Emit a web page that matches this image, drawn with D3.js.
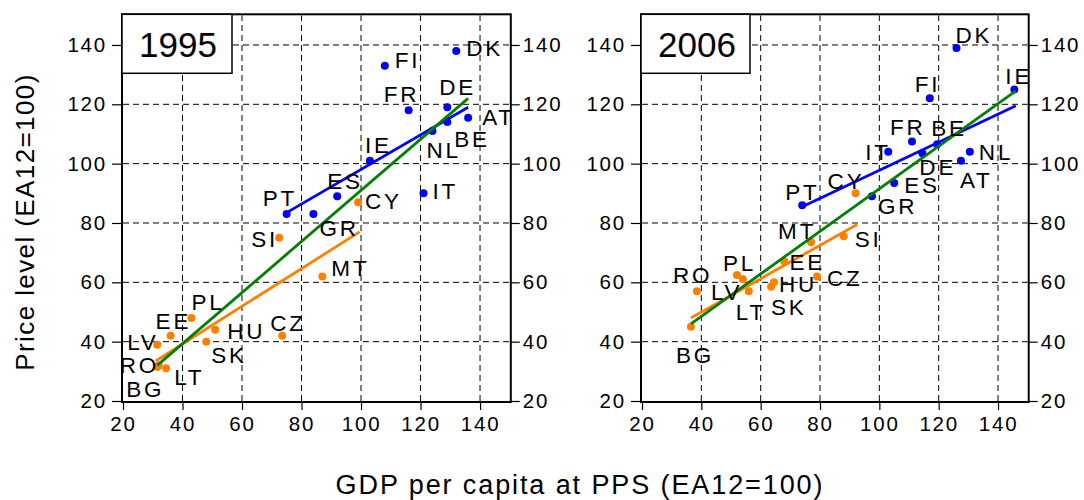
<!DOCTYPE html>
<html>
<head>
<meta charset="utf-8">
<script src="https://cdn.jsdelivr.net/npm/d3@7"></script>
<style>
  html, body { margin: 0; padding: 0; background: #ffffff; }
  svg { display: block; font-family: "Liberation Sans", Arial, sans-serif; }
</style>
</head>
<body>
<svg id="chart" width="1084" height="500"></svg>
<script>
// ---------------- DATA ----------------
const xTicks = [20, 40, 60, 80, 100, 120, 140];
const yTicks = [20, 40, 60, 80, 100, 120, 140];
const years = ["1995", "2006"];
const countries = ["DK","FI","FR","DE","AT","BE","NL","IE","ES","IT","PT","GR",
                   "CY","SI","MT","PL","EE","HU","CZ","SK","LV","RO","LT","BG"];
const groups    = ["old","old","old","old","old","old","old","old","old","old","old","old",
                   "new","new","new","new","new","new","new","new","new","new","new","new"];
const gdp1995   = [132, 108, 116, 129, 136, 129, 124, 103, 92, 121, 75, 84,
                   99, 72.5, 87, 43, 36, 51, 73.5, 48, 31.5, 32, 34.5, 31.5];
const price1995 = [138, 133, 118, 119, 115.5, 114, 111, 101, 89, 90, 83, 83,
                   87, 75, 62, 48, 42, 44, 42, 40, 39, 32, 31, 31.5];
const gdp2006   = [126, 117, 111, 114.5, 127.5, 119.5, 130.5, 145.5, 105, 103, 74, 97.5,
                   92, 88, 77, 52, 68, 64.5, 79, 63.5, 54, 38.5, 56, 36.5];
const price2006 = [139, 122, 107.5, 103.5, 101, 106.5, 104, 125, 93.5, 104, 86, 89,
                   90, 75.5, 73.5, 62.5, 67, 60, 62, 58.5, 61, 57, 57, 45];
// fitted lines: [x1, y1, x2, y2]
const fitOld1995 = [75, 83.5, 136, 119];
const fitNew1995 = [31, 33.5, 99.5, 77];
const fitAll1995 = [31.5, 32, 136, 122];
const fitOld2006 = [74, 85.5, 146, 119.5];
const fitNew2006 = [36.5, 48, 92.5, 79.5];
const fitAll2006 = [36.5, 46, 146, 124.5];

// ---------------- LAYOUT (label offsets in px: dx to text start, dy to baseline) -------------
const labelOffsets1995 = {
  DK:[10,5], FI:[10,2], FR:[-25,-8], DE:[-8,-12], AT:[14,7], BE:[7,25], NL:[-6,27],
  IE:[-5,-8], ES:[-10,-7], IT:[9,6], PT:[-24,-8], GR:[6,22], CY:[7,7], SI:[-28,9],
  MT:[9,0], PL:[0,-8], EE:[-15,-7], HU:[12,9], CZ:[-12,-5], SK:[5,21], LV:[-30,5],
  RO:[-39,8], LT:[8,17], BG:[-31,30]
};
const labelOffsets2006 = {
  DK:[-1,-5], FI:[-15,-6], FR:[-22,-6], DE:[-3,22], AT:[-1,27], BE:[-6,-8], NL:[9,8],
  IE:[-9,-5], ES:[10,10], IT:[-23,8], PT:[-17,-5], GR:[6,18], CY:[-28,-4], SI:[11,11],
  MT:[-33,-3], PL:[-14,-4], EE:[5,8], HU:[5,10], CZ:[10,10], SK:[0,28], LV:[-32,21],
  RO:[-24,-8], LT:[-13,29], BG:[-15,36]
};

const colors = { old: "#0000ff", new: "#ff8000", all: "#008000" };

const panels = [
  { year: years[0], gdp: gdp1995, price: price1995, fits: [fitOld1995, fitNew1995, fitAll1995],
    offsets: labelOffsets1995, xr: [123, 509.8], boxW: 110 },
  { year: years[1], gdp: gdp2006, price: price2006, fits: [fitOld2006, fitNew2006, fitAll2006],
    offsets: labelOffsets2006, xr: [642, 1027.7], boxW: 109 }
];
const fitColors = [colors.old, colors.new, colors.all];

const svg = d3.select("#chart");
const y = d3.scaleLinear().domain([20, 150]).range([401, 15.3]);

panels.forEach(p => {
  const x = d3.scaleLinear().domain([20, 150]).range(p.xr);
  const g = svg.append("g");

  // grid
  g.selectAll("line.vgrid").data(xTicks.filter(t => t > 20)).enter().append("line")
    .attr("x1", d => x(d)).attr("x2", d => x(d)).attr("y1", y(20)).attr("y2", y(150))
    .attr("stroke", "#000").attr("stroke-width", 1).attr("stroke-dasharray", "6,4");
  g.selectAll("line.hgrid").data(yTicks.filter(t => t > 20)).enter().append("line")
    .attr("x1", x(20)).attr("x2", x(150)).attr("y1", d => y(d)).attr("y2", d => y(d))
    .attr("stroke", "#000").attr("stroke-width", 1).attr("stroke-dasharray", "6,4");

  // axes
  const styleAxis = sel => {
    sel.select(".domain").remove();
    sel.selectAll(".tick line").attr("stroke", "#000").attr("stroke-width", 1.2);
    sel.selectAll(".tick text").attr("fill", "#000").style("font-size", "20.5px")
      .style("letter-spacing", "1.8px");
  };
  g.append("g").attr("transform", `translate(${x(20) - 1},0)`)
    .call(d3.axisLeft(y).tickValues(yTicks).tickSize(10).tickPadding(5)).call(styleAxis);
  g.append("g").attr("transform", `translate(${x(150) + 1},0)`)
    .call(d3.axisRight(y).tickValues(yTicks).tickSize(9).tickPadding(3)).call(styleAxis);
  g.append("g").attr("transform", `translate(0,${y(20) + 1})`)
    .call(d3.axisBottom(x).tickValues(xTicks).tickSize(8).tickPadding(6)).call(styleAxis);

  // frame
  g.append("rect").attr("x", x(20) - 1).attr("y", y(150) - 1)
    .attr("width", x(150) - x(20) + 2).attr("height", y(20) - y(150) + 2)
    .attr("fill", "none").attr("stroke", "#000").attr("stroke-width", 2);

  // points
  const pts = countries.map((c, i) => ({ c, grp: groups[i], gx: p.gdp[i], py: p.price[i] }));
  g.selectAll("circle.pt").data(pts).enter().append("circle")
    .attr("cx", d => x(d.gx)).attr("cy", d => y(d.py)).attr("r", 4)
    .attr("fill", d => colors[d.grp]);

  // fit lines
  g.selectAll("line.fit").data(p.fits).enter().append("line")
    .attr("x1", d => x(d[0])).attr("y1", d => y(d[1]))
    .attr("x2", d => x(d[2])).attr("y2", d => y(d[3]))
    .attr("stroke", (d, i) => fitColors[i]).attr("stroke-width", 2.8);

  // labels
  g.selectAll("text.lbl").data(pts).enter().append("text")
    .attr("x", d => x(d.gx) + p.offsets[d.c][0])
    .attr("y", d => y(d.py) + p.offsets[d.c][1])
    .style("font-size", "22.5px").style("letter-spacing", "2.8px")
    .attr("fill", "#000").text(d => d.c);

  // year box
  g.append("rect").attr("x", x(20) - 1).attr("y", y(150) - 1)
    .attr("width", p.boxW).attr("height", 59)
    .attr("fill", "#fff").attr("stroke", "#000").attr("stroke-width", 1.5);
  g.append("text").attr("x", x(20) + 16).attr("y", 56.5)
    .style("font-size", "35px").attr("fill", "#000").text(p.year);
});

// axis titles
svg.append("text").attr("transform", "translate(34,222) rotate(-90)")
  .attr("text-anchor", "middle").style("font-size", "26px").style("letter-spacing", "1.4px")
  .attr("fill", "#000").text("Price level (EA12=100)");
svg.append("text").attr("x", 580).attr("y", 494)
  .attr("text-anchor", "middle").style("font-size", "27px").style("letter-spacing", "1.9px")
  .attr("fill", "#000").text("GDP per capita at PPS (EA12=100)");
</script>
</body>
</html>
